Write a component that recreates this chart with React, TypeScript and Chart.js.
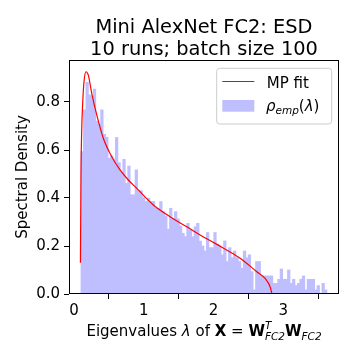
import React, { useEffect, useRef } from "react";
import { Chart, registerables } from "chart.js";

Chart.register(...registerables);

// ---- data ----
const TITLE_LINES = ["Mini AlexNet FC2: ESD", "10 runs; batch size 100"];
const Y_LABEL = "Spectral Density";
const LEGEND_LINE_LABEL = "MP fit";
const X_TICKS = [0, 1, 2, 3];
const Y_TICKS = [0, 0.2, 0.4, 0.6, 0.8];
const X_MIN = -0.072;
const X_MAX = 3.8;
const Y_MIN = 0;
const Y_MAX = 0.975;

// histogram range (eigenvalue min / max) and 100 bin densities
const HIST_MIN = 0.1;
const HIST_MAX = 3.626;
const ESD_DENSITY = [
  0.593, 0.767, 0.882, 0.83, 0.825, 0.854, 0.72, 0.708, 0.767, 0.665,
  0.653, 0.565, 0.575, 0.562, 0.652, 0.547, 0.506, 0.561, 0.461, 0.533,
  0.413, 0.413, 0.517, 0.43, 0.43, 0.403, 0.385, 0.399, 0.385, 0.385,
  0.357, 0.357, 0.385, 0.343, 0.325, 0.27, 0.357, 0.313, 0.343, 0.313,
  0.283, 0.253, 0.239, 0.294, 0.266, 0.239, 0.28, 0.294, 0.22, 0.2,
  0.179, 0.256, 0.193, 0.193, 0.256, 0.207, 0.2, 0.163, 0.221, 0.135,
  0.193, 0.151, 0.179, 0.151, 0.135, 0.107, 0.179, 0.151, 0.163, 0.093,
  0.017, 0.135, 0.135, 0.075, 0.075, 0.075, 0.075, 0.075, 0.044, 0.044,
  0.061, 0.104, 0.061, 0.061, 0.1, 0.044, 0.061, 0.035, 0.044, 0.061,
  0.075, 0.017, 0.061, 0.061, 0.061, 0.017, 0.035, 0, 0.044, 0.017,
];

// Marchenko-Pastur fit
const MP_LAMBDA = [
  0.092, 0.1, 0.11, 0.125, 0.145, 0.172, 0.205, 0.254, 0.326, 0.42,
  0.541, 0.66, 0.779, 0.9, 1.138, 1.377, 1.617, 1.808, 2.023, 2.382,
  2.621, 2.74, 2.812, 2.836,
];
const MP_DENSITY = [
  0.13, 0.5, 0.68, 0.8, 0.89, 0.926, 0.912, 0.836, 0.746, 0.649,
  0.572, 0.517, 0.475, 0.44, 0.371, 0.322, 0.28, 0.246, 0.211, 0.149,
  0.093, 0.065, 0.03, 0.003,
];

// ---- styling ----
const FAMILY = '"DejaVu Sans", sans-serif';
const BAR_COLOR = "#bfbfff";
const LINE_COLOR = "#ff0000";

type Seg = { t: string; f: string; dy?: number; stack?: boolean };

function measureRich(ctx: CanvasRenderingContext2D, segs: Seg[]) {
  let cx = 0;
  let prevStart = 0;
  let prevW = 0;
  for (const s of segs) {
    ctx.font = s.f;
    const w = ctx.measureText(s.t).width;
    if (s.stack) {
      const m = Math.max(prevW, w);
      cx = prevStart + m;
      prevW = m;
    } else {
      prevStart = cx;
      prevW = w;
      cx += w;
    }
  }
  return cx;
}

function drawRich(ctx: CanvasRenderingContext2D, segs: Seg[], x: number, y: number) {
  let cx = x;
  let prevStart = x;
  let prevW = 0;
  for (const s of segs) {
    ctx.font = s.f;
    const w = ctx.measureText(s.t).width;
    if (s.stack) {
      ctx.fillText(s.t, prevStart, y + (s.dy || 0));
      const m = Math.max(prevW, w);
      cx = prevStart + m;
      prevW = m;
    } else {
      ctx.fillText(s.t, cx, y + (s.dy || 0));
      prevStart = cx;
      prevW = w;
      cx += w;
    }
  }
}

const N = `15px ${FAMILY}`;
const B = `bold 15px ${FAMILY}`;
const I = `italic 15px ${FAMILY}`;
const IS = `italic 10.5px ${FAMILY}`;

const X_LABEL: Seg[] = [
  { t: "Eigenvalues ", f: N },
  { t: "λ", f: I },
  { t: " of ", f: N },
  { t: "X", f: B },
  { t: " = ", f: N },
  { t: "W", f: B },
  { t: "T", f: IS, dy: -7 },
  { t: "FC2", f: IS, dy: 4, stack: true },
  { t: "W", f: B },
  { t: "FC2", f: IS, dy: 4 },
];

const LEGEND_RHO: Seg[] = [
  { t: "ρ", f: I },
  { t: "emp", f: IS, dy: 3 },
  { t: "(", f: N },
  { t: "λ", f: I },
  { t: ")", f: N },
];

const decorPlugin = {
  id: "decor",
  afterDraw(chart: any) {
    const ctx: CanvasRenderingContext2D = chart.ctx;
    const a = chart.chartArea;
    ctx.save();
    // frame
    ctx.strokeStyle = "#000";
    ctx.lineWidth = 1;
    ctx.strokeRect(a.left + 0.5, a.top + 0.5, a.right - a.left - 1, a.bottom - a.top - 1);

    const cx = (a.left + a.right) / 2;
    ctx.fillStyle = "#000";
    // title
    ctx.font = `19.4px ${FAMILY}`;
    ctx.textAlign = "center";
    ctx.textBaseline = "alphabetic";
    ctx.fillText(TITLE_LINES[0], cx, 33);
    ctx.fillText(TITLE_LINES[1], cx, 54.7);

    // x label
    ctx.textAlign = "left";
    const w = measureRich(ctx, X_LABEL);
    drawRich(ctx, X_LABEL, cx - w / 2, 335.5);

    // y label
    ctx.save();
    ctx.translate(27, (a.top + a.bottom) / 2);
    ctx.rotate(-Math.PI / 2);
    ctx.font = N;
    ctx.textAlign = "center";
    ctx.fillText(Y_LABEL, 0, 0);
    ctx.restore();

    // legend
    const lx = 216.7, ly = 68.3, lw = 115, lh = 55.7, r = 3;
    ctx.beginPath();
    ctx.moveTo(lx + r, ly);
    ctx.lineTo(lx + lw - r, ly);
    ctx.quadraticCurveTo(lx + lw, ly, lx + lw, ly + r);
    ctx.lineTo(lx + lw, ly + lh - r);
    ctx.quadraticCurveTo(lx + lw, ly + lh, lx + lw - r, ly + lh);
    ctx.lineTo(lx + r, ly + lh);
    ctx.quadraticCurveTo(lx, ly + lh, lx, ly + lh - r);
    ctx.lineTo(lx, ly + r);
    ctx.quadraticCurveTo(lx, ly, lx + r, ly);
    ctx.closePath();
    ctx.fillStyle = "rgba(255,255,255,0.8)";
    ctx.fill();
    ctx.strokeStyle = "#cccccc";
    ctx.lineWidth = 1;
    ctx.stroke();

    ctx.strokeStyle = LINE_COLOR;
    ctx.lineWidth = 1;
    ctx.beginPath();
    ctx.moveTo(222.3, 81.5);
    ctx.lineTo(254.3, 81.5);
    ctx.stroke();

    ctx.fillStyle = BAR_COLOR;
    ctx.fillRect(222.3, 100, 32, 11.7);

    ctx.fillStyle = "#000";
    ctx.font = N;
    ctx.textAlign = "left";
    ctx.fillText(LEGEND_LINE_LABEL, 266.7, 88.3);
    drawRich(ctx, LEGEND_RHO, 266, 110.5);

    ctx.restore();
  },
};

export default function App() {
  const ref = useRef<HTMLCanvasElement | null>(null);

  useEffect(() => {
    if (!ref.current) return;
    const nBins = ESD_DENSITY.length;
    const binW = (HIST_MAX - HIST_MIN) / nBins;
    const barData = ESD_DENSITY.map((v, i) => ({ x: HIST_MIN + binW * (i + 0.5), y: v }));
    const lineData = MP_LAMBDA.map((x, i) => ({ x, y: MP_DENSITY[i] }));

    const chart = new Chart(ref.current, {
      type: "bar",
      data: {
        datasets: [
          {
            type: "line",
            label: LEGEND_LINE_LABEL,
            data: lineData,
            borderColor: LINE_COLOR,
            borderWidth: 1.2,
            pointRadius: 0,
            fill: false,
            cubicInterpolationMode: "monotone",
            order: 1,
          } as any,
          {
            type: "bar",
            label: "rho_emp",
            data: barData,
            backgroundColor: BAR_COLOR,
            borderWidth: 0,
            barPercentage: 1,
            categoryPercentage: 1,
            inflateAmount: 0.4,
            order: 2,
          } as any,
        ],
      },
      options: {
        responsive: false,
        animation: false,
        devicePixelRatio: 1,
        layout: { padding: { left: 0, top: 60, right: 21, bottom: 0 }, autoPadding: false } as any,
        plugins: {
          legend: { display: false },
          tooltip: { enabled: false },
          title: { display: false },
        },
        scales: {
          x: {
            type: "linear",
            min: X_MIN,
            max: X_MAX,
            offset: false,
            afterBuildTicks: (s: any) => {
              s.ticks = X_TICKS.map((v) => ({ value: v }));
            },
            afterFit: (s: any) => {
              s.height = 66;
            },
            grid: {
              drawOnChartArea: false,
              drawTicks: true,
              tickLength: 5,
              tickColor: "#000",
              tickWidth: 1,
            },
            border: { display: false },
            ticks: {
              color: "#000",
              font: { family: FAMILY, size: 15 },
              padding: 3,
              maxRotation: 0,
              callback: (v: any) => String(v),
            },
          },
          y: {
            type: "linear",
            min: Y_MIN,
            max: Y_MAX,
            afterBuildTicks: (s: any) => {
              s.ticks = Y_TICKS.map((v) => ({ value: v }));
            },
            afterFit: (s: any) => {
              s.width = 69;
            },
            grid: {
              drawOnChartArea: false,
              drawTicks: true,
              tickLength: 5,
              tickColor: "#000",
              tickWidth: 1,
            },
            border: { display: false },
            ticks: {
              color: "#000",
              font: { family: FAMILY, size: 15 },
              padding: 4,
              callback: (v: any) => Number(v).toFixed(1),
            },
          },
        },
      },
      plugins: [decorPlugin],
    });
    return () => chart.destroy();
  }, []);

  return (
    <div style={{ position: "absolute", left: 0, top: 0, width: 360, height: 360, background: "#fff" }}>
      <canvas ref={ref} width={360} height={360} style={{ width: 360, height: 360, display: "block" }} />
    </div>
  );
}
